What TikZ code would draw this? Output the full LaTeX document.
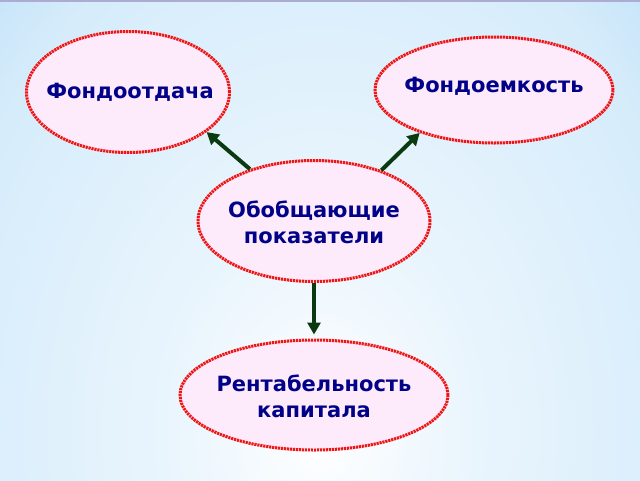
\documentclass[tikz,border=0pt]{standalone}
\usepackage{fontspec}
\setmainfont{DejaVu Sans}
\usetikzlibrary{shapes.geometric,arrows.meta}
\definecolor{bgblue}{HTML}{A0D3F4}
\definecolor{bgmid}{HTML}{D6ECFB}
\definecolor{pinkfill}{HTML}{FDEAFB}
\definecolor{bordred}{HTML}{F01515}
\definecolor{txtblue}{HTML}{000088}
\definecolor{arrgreen}{HTML}{0C3A10}
\pgfdeclareradialshading{bgshade}{\pgfpoint{0bp}{0bp}}{color(0bp)=(white); color(8bp)=(white!50!bgmid); color(22bp)=(bgmid); color(36bp)=(bgblue); color(50bp)=(bgblue)}
\tikzset{
  oval/.style={ellipse, draw=bordred, fill=pinkfill, line width=3pt,
    dash pattern=on 2.2pt off 0.8pt, inner sep=0pt},
  ovaltext/.style={align=center, text=txtblue, inner sep=0pt,
    font=\bfseries\fontsize{21}{26}\selectfont},
  conn/.style={draw=arrgreen, line width=4pt,
    -{Triangle[length=12pt,width=13pt]}}
}
\begin{document}
\begin{tikzpicture}[x=1pt,y=-1pt]
\useasboundingbox (0,0) rectangle (640,480);
\begin{scope}
\clip (0,0) rectangle (640,480);
\shade[shading=bgshade] (320-440,430-600) rectangle (320+440,430+600);
\end{scope}
\fill[gray!70!blue!50] (0,0) rectangle (640,1.5);
\node[oval, minimum width=203pt, minimum height=121pt,
  label={[ovaltext, xshift=2pt]center:Фондоотдача}] (a) at (128,92) {};
\node[oval, minimum width=238pt, minimum height=106pt,
  label={[ovaltext, yshift=4pt]center:Фондоемкость}] (b) at (494,90) {};
\node[oval, minimum width=232pt, minimum height=121pt,
  label={[ovaltext, yshift=-1.5pt]center:{Обобщающие\\показатели}}] (c) at (314,221) {};
\node[oval, minimum width=268pt, minimum height=110pt,
  label={[ovaltext, yshift=-1pt]center:{Рентабельность\\капитала}}] (d) at (314,395) {};
\draw[conn] (c.141.7) -- (a.-27);
\draw[conn] (c.37.4) -- (b.210.5);
\draw[conn, shorten >=4pt] (c.south) -- (d.north);
\end{tikzpicture}
\end{document}
